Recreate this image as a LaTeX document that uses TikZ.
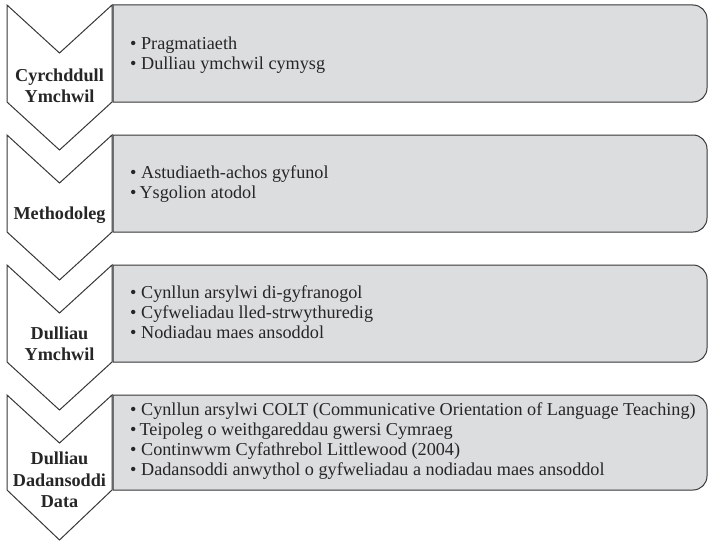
\documentclass[tikz,border=0pt]{standalone}
\usepackage{fontspec}
\setmainfont{Liberation Serif}
\usetikzlibrary{calc}
\definecolor{boxgray}{RGB}{220,221,223}
\definecolor{linegray}{RGB}{55,55,55}
\tikzset{chevron/.style={fill=white, draw=linegray, line width=1pt, line join=miter}}
\tikzset{stagebox/.style={fill=boxgray, draw=linegray, line width=1pt}}
\tikzset{stagelabel/.style={node font=\fontsize{18.2}{21.5}\selectfont\bfseries, align=center, inner sep=0pt, text=black!85}}
\tikzset{itemlist/.style={node font=\fontsize{18.2}{20}\selectfont, align=left, inner sep=0pt, anchor=north west, text=black!85}}

\begin{document}
\begin{tikzpicture}[x=1pt,y=-1pt]
\useasboundingbox (0,0) rectangle (709,543);

% stage 1
\draw[stagebox] (113,5) [rounded corners=14pt] -- (707,5) -- (707,102) [sharp corners] -- (113,102) -- cycle;
\draw[chevron] (7,5) -- (59.5,53) -- (112,5) -- (112,102) -- (59.5,150) -- (7,102) -- cycle;
\node[stagelabel] (approach) at (59.5,86) {Cyrchddull\\Ymchwil};
\node[itemlist] (approachlist) at (130,37) {\textbullet\ Pragmatiaeth\\\textbullet\ Dulliau ymchwil cymysg};

% stage 2
\draw[stagebox] (113,135) [rounded corners=14pt] -- (707,135) -- (707,232) [sharp corners] -- (113,232) -- cycle;
\draw[chevron] (7,135) -- (59.5,183) -- (112,135) -- (112,232) -- (59.5,280) -- (7,232) -- cycle;
\node[stagelabel] (method) at (59.5,215) {Methodoleg};
\node[itemlist] (methodlist) at (130,165) {\textbullet\ Astudiaeth-achos gyfunol\\\textbullet\,Ysgolion atodol};

% stage 3
\draw[stagebox] (113,265) [rounded corners=14pt] -- (707,265) -- (707,362) [sharp corners] -- (113,362) -- cycle;
\draw[chevron] (7,265) -- (59.5,313) -- (112,265) -- (112,362) -- (59.5,410) -- (7,362) -- cycle;
\node[stagelabel] (methods) at (59.5,344) {Dulliau\\Ymchwil};
\node[itemlist] (methodslist) at (130,285) {\textbullet\ Cynllun arsylwi di-gyfranogol\\\textbullet\ Cyfweliadau lled-strwythuredig\\\textbullet\ Nodiadau maes ansoddol};

% stage 4
\draw[stagebox] (113,395) [rounded corners=14pt] -- (707,395) -- (707,490) [sharp corners] -- (113,490) -- cycle;
\draw[chevron] (7,395) -- (59.5,443) -- (112,395) -- (112,490) -- (59.5,540) -- (7,490) -- cycle;
\node[stagelabel] (analysis) at (59.5,480) {Dulliau\\Dadansoddi\\Data};
\node[itemlist] (analysislist) at (130,402) {\textbullet\ Cynllun arsylwi COLT (Communicative Orientation of Language Teaching)\\\textbullet\,Teipoleg o weithgareddau gwersi Cymraeg\\\textbullet\ Continwwm Cyfathrebol Littlewood (2004)\\\textbullet\ Dadansoddi anwythol o gyfweliadau a nodiadau maes ansoddol};
\end{tikzpicture}
\end{document}
